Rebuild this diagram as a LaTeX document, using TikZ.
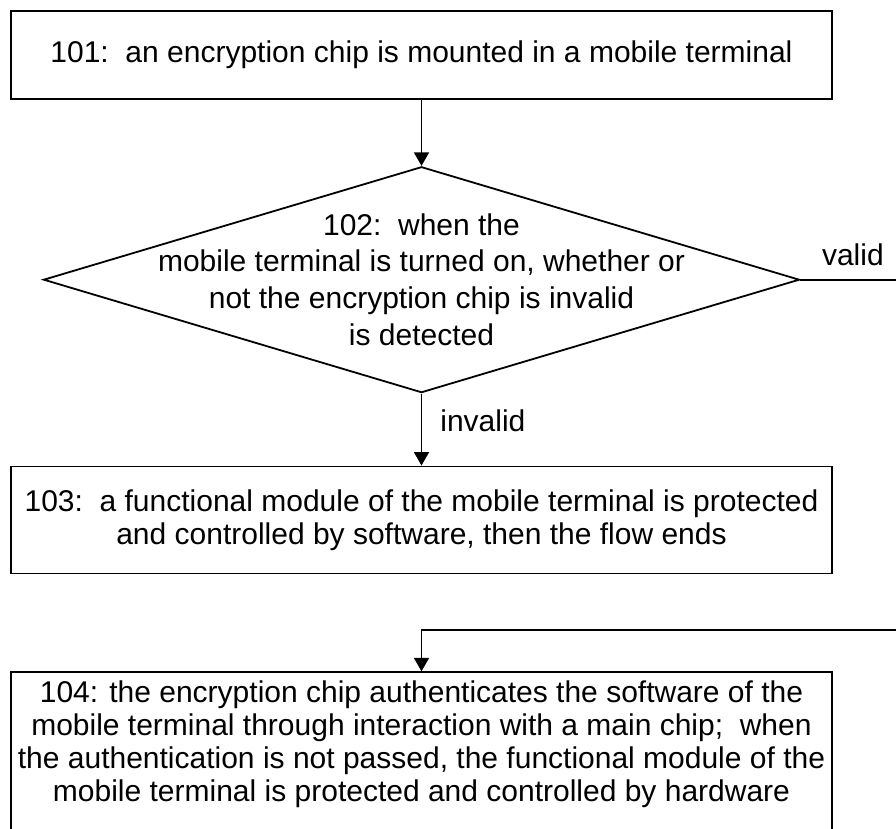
\documentclass[tikz,border=0pt]{standalone}
\usepackage{fontspec}
\setmainfont{Liberation Sans}
\usetikzlibrary{arrows.meta, positioning, shapes.geometric, calc}

\begin{document}
\begin{tikzpicture}[
        font=\fontsize{10pt}{12pt}\selectfont,
        block/.style={rectangle, draw, line width=0.6pt,
                      minimum width=273.7pt, inner xsep=0pt, inner ysep=3pt,
                      align=center},
        decision/.style={diamond, draw, line width=0.6pt,
                      minimum width=252pt, minimum height=75.3pt, inner sep=0pt},
        arrow/.style={-{Triangle[width=5pt, length=4.5pt]}, line width=0.6pt},
    ]
        \path[use as bounding box, fill=white] (-140.5pt,18.33pt) rectangle (158.17pt,-258pt);

        \node[block, minimum height=29.3pt] (b101) {101:\ \ an encryption chip is mounted in a mobile terminal};
        \node[decision, below=22pt of b101] (d102) {};
        \node[align=center, font=\fontsize{10pt}{12.3pt}\selectfont] (t102) at (d102)
            {102:\ \ when the\\mobile terminal is turned on, whether or\\not the encryption chip is invalid\\is detected};
        \node[block, minimum height=35.7pt, below=24pt of d102, font=\fontsize{10pt}{11pt}\selectfont] (b103)
            {103:\ \ a functional module of the mobile terminal is protected\\and controlled by software, then the flow ends};
        \node[block, text depth=40pt, below=32.3pt of b103, font=\fontsize{10pt}{11pt}\selectfont] (b104)
            {104: the encryption chip authenticates the software of the\\mobile terminal through interaction with a main chip;\ \ when\\the authentication is not passed, the functional module of the\\mobile terminal is protected and controlled by hardware};

        \coordinate[right=35pt of d102.east] (vturn);
        \coordinate[above=13.7pt of b104.north] (vjoin);

        \draw[arrow] (b101) -- (d102);
        \draw[arrow] (d102) -- node[right, inner xsep=6pt, yshift=3pt] {invalid} (b103);
        \draw[arrow] (d102.east) -- node[above, yshift=1pt] {valid} (vturn) |- (vjoin) -- (b104.north);

    \end{tikzpicture}
\end{document}
